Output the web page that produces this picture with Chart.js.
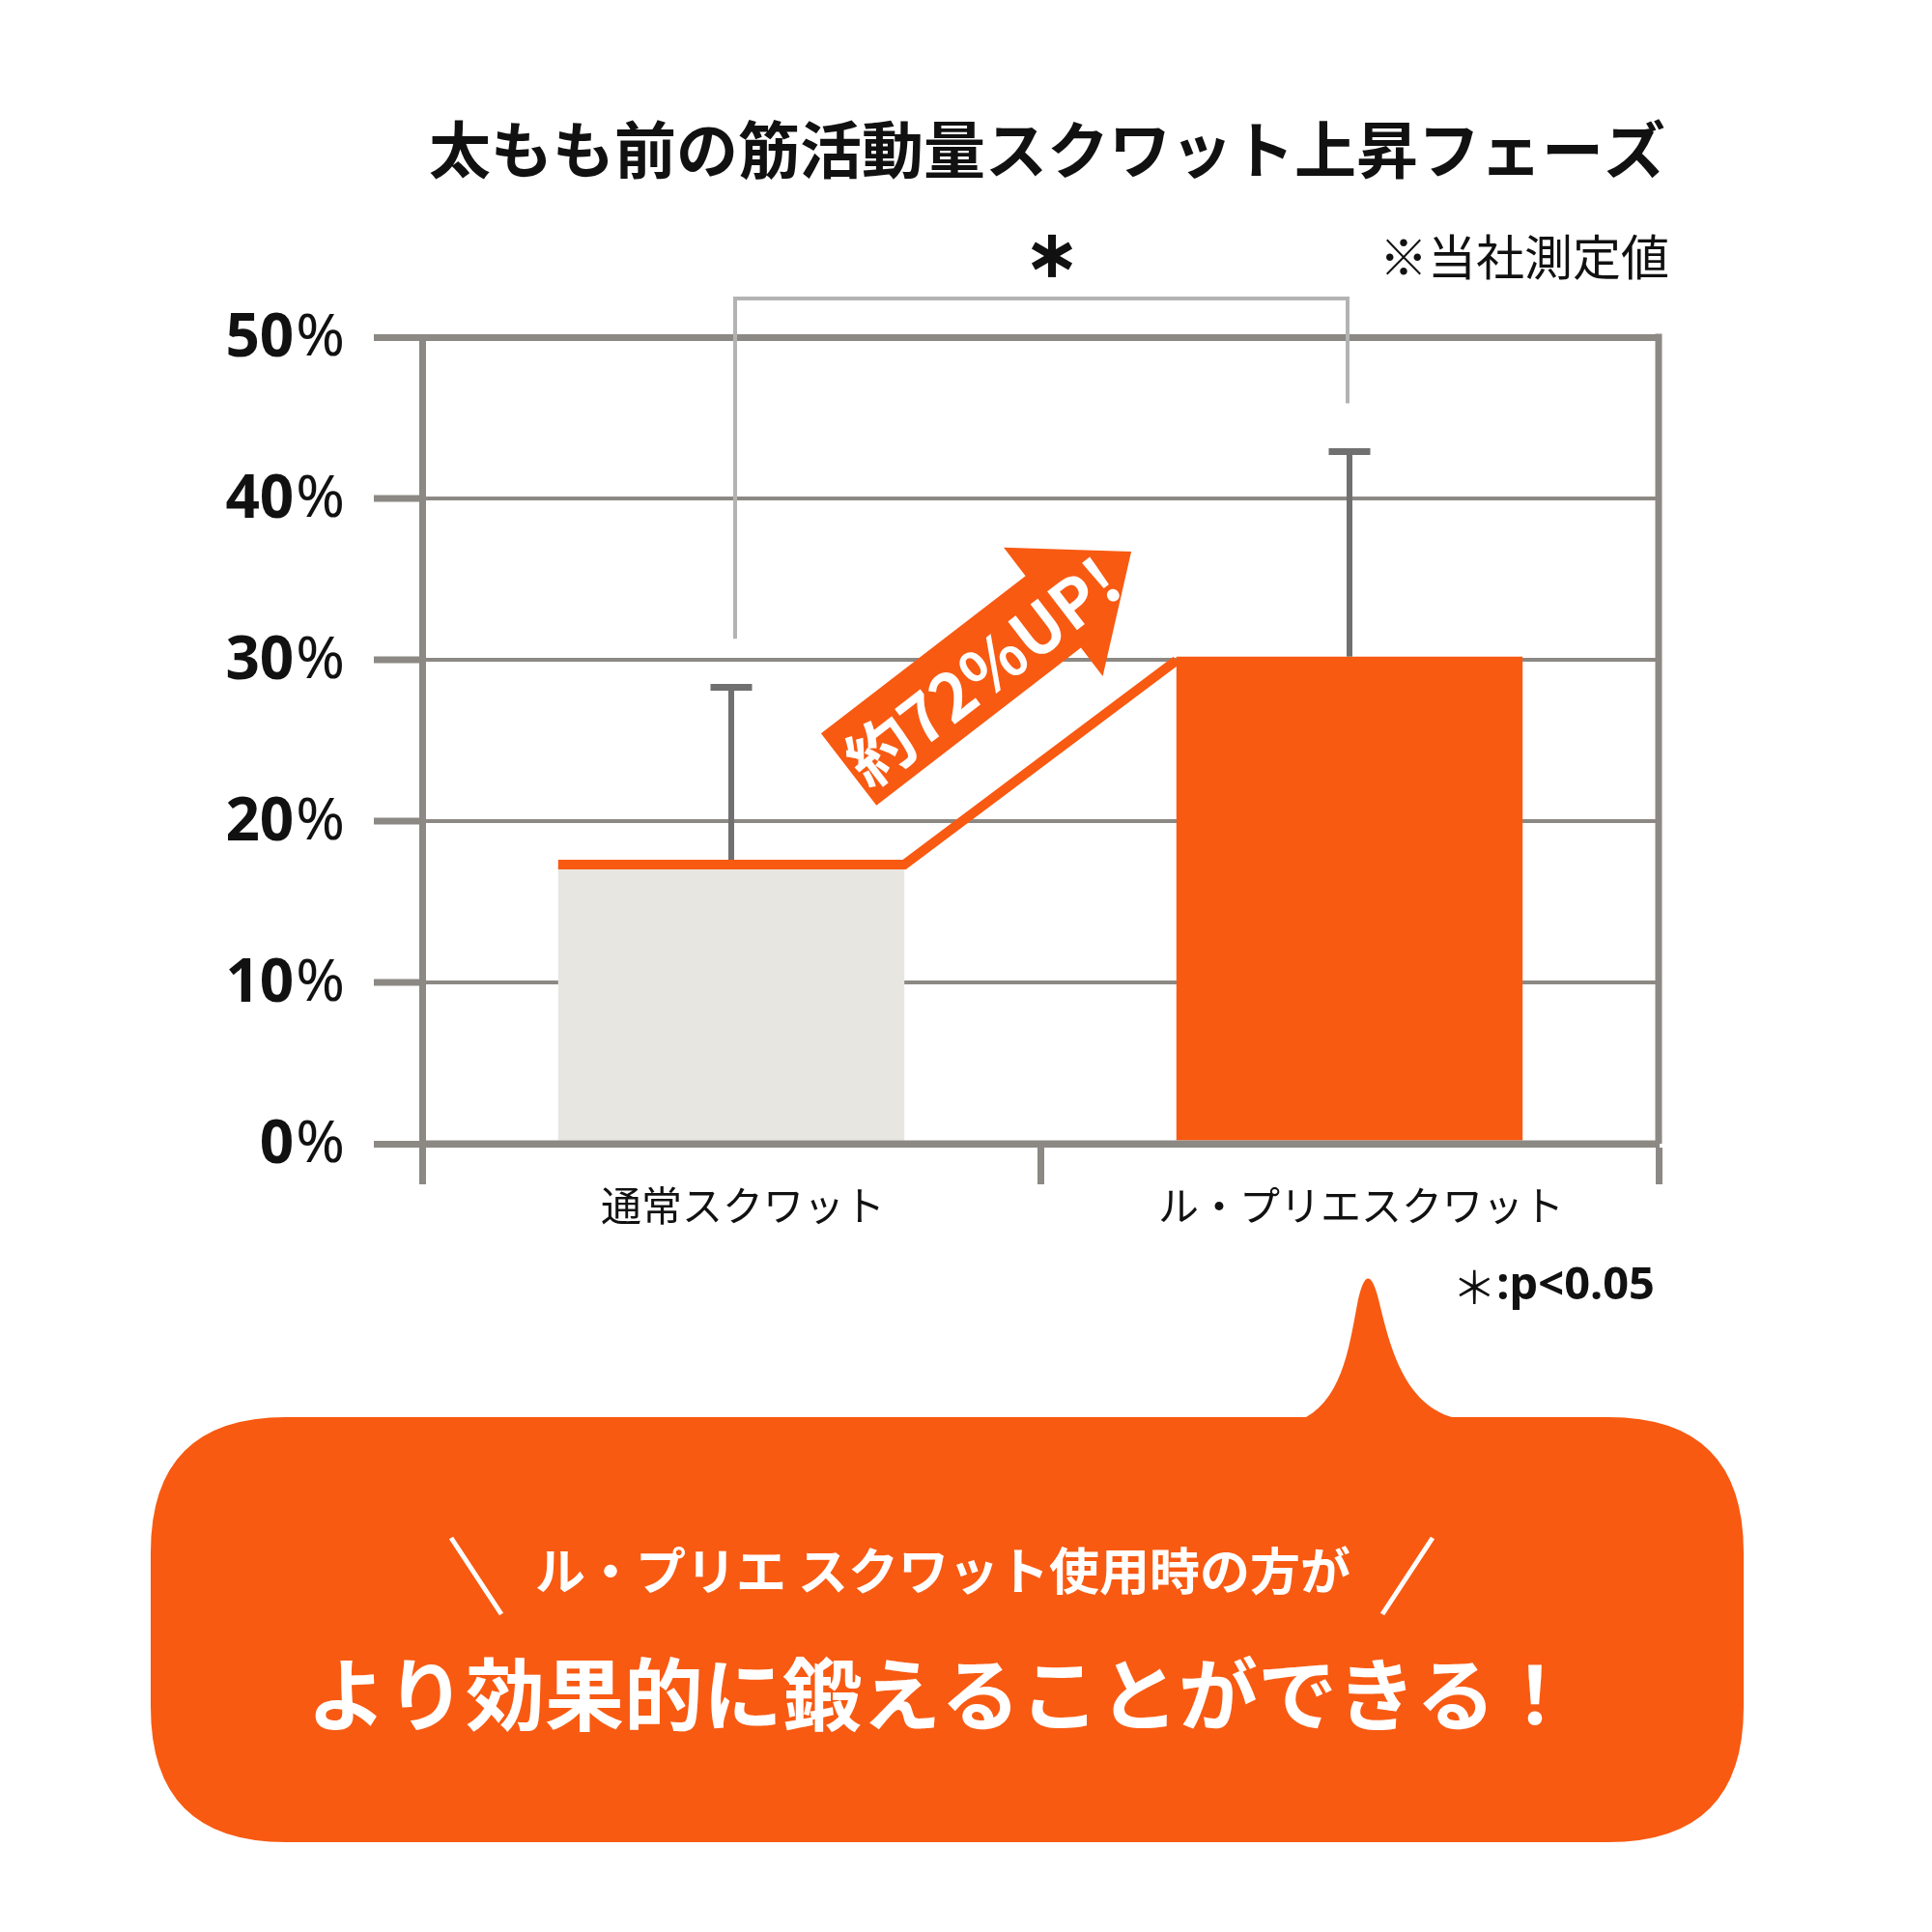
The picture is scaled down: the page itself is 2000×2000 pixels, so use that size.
<!DOCTYPE html>
<html>
<head>
<meta charset="utf-8">
<script src="https://cdn.jsdelivr.net/npm/chart.js@4.4.1/dist/chart.umd.min.js"></script>
<style>
  html, body { margin: 0; padding: 0; background: #fff; }
  #wrap { width: 2000px; height: 2000px; }
</style>
</head>
<body>
<div id="wrap"><canvas id="chart" width="2000" height="2000"></canvas></div>
<script>
// data
const categories = ['通常スクワット', 'ル・プリエスクワット'];
const values = [17.3, 30.2];          // %
const errorTop = [28.3, 42.9];        // upper end of error bars, %
const yTicks = [0, 10, 20, 30, 40, 50];
const bracketTop = 52.4;              // significance bracket, %
const bracketLegEnds = [31.3, 45.9];

const ORANGE = '#f85a12';
const LIGHT = '#e8e6e0';
const AXIS = '#8c8984';
const ERR = '#707070';
const BRACKET = '#b3b3b3';
const JP = '"Noto Sans CJK JP", "Noto Sans", sans-serif';

const decor = {
  id: 'decor',
  afterDatasetsDraw(chart) {
    const ctx = chart.ctx;
    const area = chart.chartArea;
    const xS = chart.scales.x, yS = chart.scales.y;
    const bars = chart.getDatasetMeta(0).data;
    ctx.save();

    // x axis on top of bars, right frame
    ctx.strokeStyle = AXIS;
    ctx.lineWidth = 7;
    ctx.beginPath();
    ctx.moveTo(area.left, area.bottom);
    ctx.lineTo(area.right, area.bottom);
    ctx.moveTo(area.right, area.top - 3.5);
    ctx.lineTo(area.right, area.bottom);
    ctx.stroke();

    // error bars (upper only)
    bars.forEach((b, i) => {
      const yt = yS.getPixelForValue(errorTop[i]);
      ctx.strokeStyle = ERR;
      ctx.lineWidth = 6;
      ctx.beginPath();
      ctx.moveTo(b.x, b.y);
      ctx.lineTo(b.x, yt);
      ctx.stroke();
      ctx.lineWidth = 7;
      ctx.beginPath();
      ctx.moveTo(b.x - 21.5, yt);
      ctx.lineTo(b.x + 21.5, yt);
      ctx.stroke();
    });

    // orange connector from bar 1 top to bar 2 top
    const b0 = bars[0], b1 = bars[1];
    ctx.strokeStyle = ORANGE;
    ctx.lineWidth = 10;
    ctx.lineJoin = 'miter';
    ctx.beginPath();
    ctx.moveTo(b0.x - b0.width / 2, b0.y);
    ctx.lineTo(b0.x + b0.width / 2, b0.y);
    ctx.lineTo(b1.x - b1.width / 2, b1.y + 4);
    ctx.stroke();

    // significance bracket
    const ybt = yS.getPixelForValue(bracketTop);
    ctx.strokeStyle = BRACKET;
    ctx.lineWidth = 4;
    ctx.beginPath();
    ctx.moveTo(b0.x + 4, yS.getPixelForValue(bracketLegEnds[0]));
    ctx.lineTo(b0.x + 4, ybt);
    ctx.lineTo(b1.x - 2, ybt);
    ctx.lineTo(b1.x - 2, yS.getPixelForValue(bracketLegEnds[1]));
    ctx.stroke();

    // heavy six-armed asterisk above the bracket
    const ax = (xS.getPixelForValue(0) + xS.getPixelForValue(1)) / 2 + 12;
    const ay = yS.getPixelForValue(bracketTop) - 44;
    ctx.strokeStyle = '#111';
    ctx.lineWidth = 8;
    ctx.lineCap = 'butt';
    for (let k = 0; k < 3; k++) {
      const a = Math.PI / 2 + k * Math.PI / 3;
      ctx.beginPath();
      ctx.moveTo(ax - Math.cos(a) * 22, ay - Math.sin(a) * 22);
      ctx.lineTo(ax + Math.cos(a) * 22, ay + Math.sin(a) * 22);
      ctx.stroke();
    }

    // "約72%UP!" arrow, placed between the two bars
    const c0 = xS.getPixelForValue(0), c1 = xS.getPixelForValue(1);
    const tx = c0 + 0.19 * (c1 - c0), ty = yS.getPixelForValue(23.2);
    const hx = c0 + 0.647 * (c1 - c0), hy = yS.getPixelForValue(36.7);
    const ang = Math.atan2(hy - ty, hx - tx);
    const len = Math.hypot(hx - tx, hy - ty);
    const hl = 102, sw = 47, hw = 84;
    ctx.translate(tx, ty);
    ctx.rotate(ang);
    ctx.fillStyle = ORANGE;
    ctx.beginPath();
    ctx.moveTo(0, -sw);
    ctx.lineTo(len - hl, -sw);
    ctx.lineTo(len - hl, -hw);
    ctx.lineTo(len, 0);
    ctx.lineTo(len - hl, hw);
    ctx.lineTo(len - hl, sw);
    ctx.lineTo(0, sw);
    ctx.closePath();
    ctx.fill();
    ctx.fillStyle = '#fff';
    ctx.font = '600 68px ' + JP;
    ctx.textAlign = 'center';
    ctx.textBaseline = 'middle';
    ctx.fillText('約72%UP!', 172, 4);
    ctx.restore();
  },
  afterDraw(chart) {
    const ctx = chart.ctx;
    const area = chart.chartArea;
    const xS = chart.scales.x, yS = chart.scales.y;
    ctx.save();
    ctx.fillStyle = '#111';

    // title and notes
    ctx.textBaseline = 'middle';
    ctx.textAlign = 'right';
    ctx.font = 'bold 64px ' + JP;
    ctx.fillText('太もも前の筋活動量スクワット上昇フェーズ', 1724, 155);
    ctx.font = '50px ' + JP;
    ctx.fillText('※当社測定値', 1728, 266);

    // y tick labels: bold number, light percent sign
    yS.ticks.forEach(t => {
      const y = yS.getPixelForValue(t.value);
      const rx = area.left - 80;
      ctx.textAlign = 'right';
      ctx.font = '61px "Noto Sans", sans-serif';
      const pw = ctx.measureText('%').width;
      ctx.fillText('%', rx, y + 2);
      ctx.font = 'bold 62px "Noto Sans", sans-serif';
      ctx.fillText(String(t.value), rx - pw - 2, y + 2);
    });

    // category labels
    ctx.textAlign = 'center';
    ctx.font = '42px ' + JP;
    categories.forEach((c, i) => {
      ctx.fillText(c, xS.getPixelForValue(i) + 12, area.bottom + 64);
    });

    // significance note
    ctx.textAlign = 'right';
    ctx.font = 'bold 47px "Noto Sans", sans-serif';
    const note = ':p<0.05';
    const nw = ctx.measureText(note).width;
    ctx.fillText(note, 1713, 1332);
    ctx.font = '46px ' + JP;
    ctx.fillText('＊', 1713 - nw, 1332);

    // speech bubble
    const L = 156, R = 1805, T = 1467, B = 1907, r = 140;
    ctx.fillStyle = ORANGE;
    ctx.beginPath();
    ctx.moveTo(L + r, T);
    ctx.lineTo(1352, T);
    ctx.bezierCurveTo(1392, 1445, 1398, 1385, 1406, 1345);
    ctx.quadraticCurveTo(1416, 1302, 1427, 1345);
    ctx.bezierCurveTo(1438, 1390, 1452, 1452, 1503, T);
    ctx.lineTo(R - r, T);
    ctx.quadraticCurveTo(R, T, R, T + r);
    ctx.lineTo(R, B - r);
    ctx.quadraticCurveTo(R, B, R - r, B);
    ctx.lineTo(L + r, B);
    ctx.quadraticCurveTo(L, B, L, B - r);
    ctx.lineTo(L, T + r);
    ctx.quadraticCurveTo(L, T, L + r, T);
    ctx.closePath();
    ctx.fill();

    ctx.fillStyle = '#fff';
    ctx.strokeStyle = '#fff';
    ctx.lineWidth = 5;
    ctx.beginPath();
    ctx.moveTo(467, 1592);
    ctx.lineTo(519, 1671);
    ctx.moveTo(1483, 1592);
    ctx.lineTo(1431, 1671);
    ctx.stroke();
    ctx.textAlign = 'center';
    ctx.font = 'bold 52px ' + JP;
    ctx.fillText('ル・プリエ スクワット使用時の方が', 976, 1626);
    ctx.font = 'bold 82px ' + JP;
    ctx.fillText('より効果的に鍛えることができる！', 974, 1754);
    ctx.restore();
  }
};

new Chart(document.getElementById('chart'), {
  type: 'bar',
  data: {
    labels: categories,
    datasets: [{
      data: values,
      backgroundColor: [LIGHT, ORANGE],
      borderWidth: 0,
      categoryPercentage: 1,
      barPercentage: 0.56
    }]
  },
  options: {
    responsive: false,
    devicePixelRatio: 1,
    animation: false,
    layout: { padding: { left: 387, right: 283, top: 349, bottom: 774 } },
    plugins: {
      legend: { display: false },
      tooltip: { enabled: false },
      title: { display: false }
    },
    scales: {
      x: {
        offset: true,
        grid: {
          offset: true,
          drawOnChartArea: false,
          drawTicks: true,
          tickLength: 42,
          tickWidth: 7,
          tickColor: AXIS
        },
        border: { display: true, color: AXIS, width: 7 },
        ticks: { display: false }
      },
      y: {
        min: 0,
        max: 50,
        afterBuildTicks: s => { s.ticks = yTicks.map(v => ({ value: v })); },
        ticks: { display: false },
        grid: {
          color: AXIS,
          lineWidth: c => (c.tick && (c.tick.value === 50 || c.tick.value === 0)) ? 7 : 4,
          tickLength: 50,
          tickWidth: 7,
          tickColor: AXIS
        },
        border: { color: AXIS, width: 7 }
      }
    }
  },
  plugins: [decor]
});
</script>
</body>
</html>
